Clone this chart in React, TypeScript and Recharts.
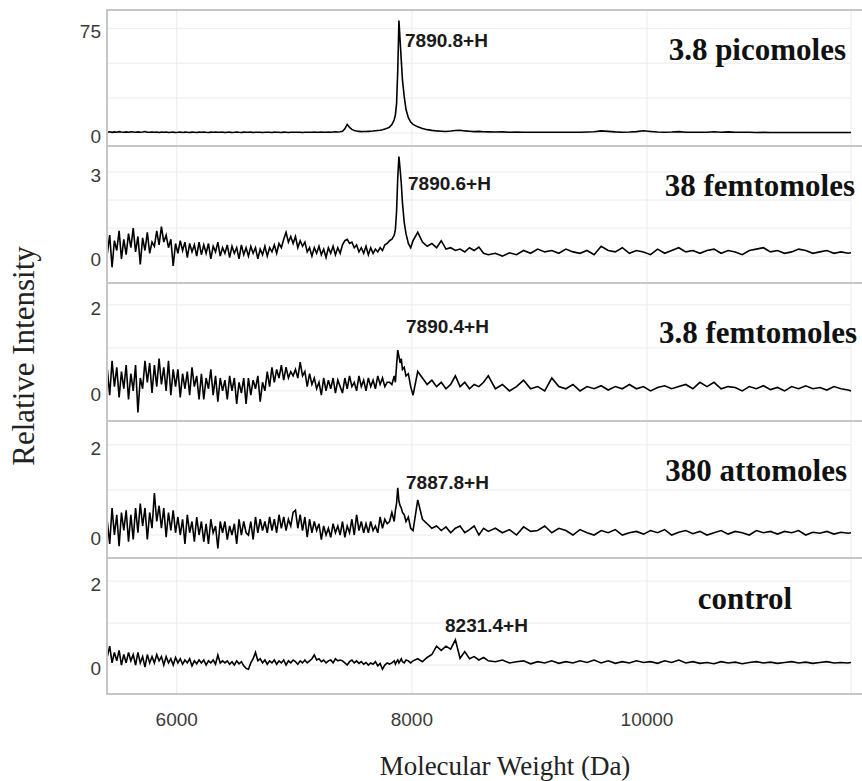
import { LineChart, Line, XAxis, YAxis, CartesianGrid } from "recharts"

// molecular weight (Da) sampling grid
const mw = [
  5410, 5430, 5450, 5470, 5490, 5510, 5530, 5550, 5570, 5590,
  5610, 5630, 5650, 5670, 5690, 5710, 5730, 5750, 5770, 5790,
  5810, 5830, 5850, 5870, 5890, 5910, 5930, 5950, 5970, 5990,
  6010, 6030, 6050, 6070, 6090, 6110, 6130, 6150, 6170, 6190,
  6210, 6230, 6250, 6270, 6290, 6310, 6330, 6350, 6370, 6390,
  6410, 6430, 6450, 6470, 6490, 6510, 6530, 6550, 6570, 6590,
  6610, 6630, 6650, 6670, 6690, 6710, 6730, 6750, 6770, 6790,
  6810, 6830, 6850, 6870, 6890, 6910, 6930, 6950, 6970, 6990,
  7010, 7030, 7050, 7070, 7090, 7110, 7130, 7150, 7170, 7190,
  7210, 7230, 7250, 7270, 7290, 7310, 7330, 7350, 7370, 7390,
  7410, 7430, 7450, 7470, 7490, 7510, 7530, 7550, 7570, 7590,
  7610, 7630, 7650, 7670, 7690, 7710, 7730, 7750, 7770, 7790,
  7810,
  7830, 7850, 7860, 7870, 7880, 7890, 7900, 7910, 7920, 7935, 7950, 7970, 7990,
  8010, 8050, 8090, 8130, 8170, 8210, 8250, 8290, 8330, 8370, 8410, 8450, 8490, 8530, 8570, 8610, 8650,
  8710, 8770, 8830, 8890, 8950, 9010, 9070, 9130, 9190, 9250,
  9310, 9370, 9430, 9490, 9550, 9610, 9670, 9730, 9790, 9850,
  9910, 9970, 10030, 10090, 10150, 10210, 10270, 10330, 10390, 10450,
  10510, 10570, 10630, 10690, 10750, 10810, 10870, 10930, 10990, 11050,
  11110, 11170, 11230, 11290, 11350, 11410, 11470, 11530, 11590, 11650,
  11710, 11735,
]

const pico = [
  0.6, 0.9, 0.5, 0.8, 0.6, 1.0, 0.7, 0.5, 0.8, 0.6,
  0.9, 0.7, 0.5, 0.8, 0.6, 0.7, 1.1, 0.6, 0.5, 0.7,
  0.5, 0.6, 0.4, 0.6, 0.5, 0.7, 0.4, 0.5, 0.6, 0.4,
  0.5, 0.7, 0.4, 0.6, 0.5, 0.4, 0.6, 0.5, 0.4, 0.6,
  0.5, 0.7, 0.5, 0.4, 0.6, 0.5, 0.7, 0.6, 0.5, 0.6,
  0.4, 0.5, 0.6, 0.4, 0.5, 0.7, 0.5, 0.4, 0.6, 0.5,
  0.5, 0.6, 0.4, 0.5, 0.6, 0.5, 0.4, 0.5, 0.6, 0.5,
  0.4, 0.6, 0.5, 0.5, 0.4, 0.6, 0.5, 0.4, 0.5, 0.6,
  0.5, 0.6, 0.5, 0.4, 0.5, 0.6, 0.5, 0.6, 0.7, 0.6,
  0.6, 0.7, 0.6, 0.5, 0.7, 0.6, 0.7, 0.8, 0.7, 0.9,
  1.2, 3.0, 6.2, 4.0, 2.6, 1.8, 1.4, 1.2, 1.0, 1.1,
  1.1, 1.2, 1.3, 1.4, 1.6, 1.8, 2.0, 2.3, 2.8, 3.4,
  4.2,
  6, 9.5, 13, 21, 45, 80.5, 66, 52, 38, 26, 17, 11, 7.8,
  6.2, 4.4, 3.2, 2.4, 1.9, 1.5, 1.3, 1.1, 1.4, 1.8, 2.0, 1.5, 1.3, 1.0, 1.2, 0.9, 0.8,
  0.7, 0.8, 0.6, 0.7, 0.5, 0.6, 0.5, 0.6, 0.5, 0.6,
  0.5, 0.6, 0.5, 0.7, 0.9, 1.5, 1.2, 0.8, 0.6, 0.7,
  1.0, 1.6, 1.1, 0.7, 0.6, 0.7, 1.0, 0.6, 0.5, 0.6,
  0.5, 0.9, 0.6, 0.8, 0.6, 0.5, 0.5, 0.4, 0.5, 0.4,
  0.4, 0.4, 0.4, 0.4, 0.4, 0.4, 0.4, 0.4, 0.4, 0.4,
  0.4, 0.4,
]

const femto38 = [
  0.1, 0.75, -0.4, 0.55, 0.2, 0.9, -0.1, 0.6, 0.05, 0.8,
  0.3, 1.0, 0.15, 0.7, -0.3, 0.65, 0.2, 0.85, 0.1, 0.5,
  0.35, 0.9, 0.4, 1.05, 0.5, 0.75, 0.3, 0.6, -0.35, 0.45,
  0.1, 0.55, 0.2, 0.5, -0.05, 0.45, 0.15, 0.4, 0.0, 0.5,
  0.05, 0.4, 0.1, 0.45, -0.1, 0.35, 0.15, 0.5, 0.0, 0.3,
  0.1, 0.4, -0.05, 0.35, 0.1, 0.3, -0.1, 0.4, 0.05, 0.3,
  0.0, 0.35, 0.1, 0.3, -0.1, 0.25, 0.05, 0.35, 0.0, 0.3,
  0.15, 0.4, 0.1, 0.45, 0.3, 0.6, 0.85, 0.5, 0.7, 0.45,
  0.7, 0.3, 0.55, 0.35, 0.5, 0.15, 0.3, 0.0, 0.3, 0.1,
  0.35, 0.05, 0.25, -0.05, 0.3, 0.1, 0.35, 0.05, 0.3, 0.1,
  0.4, 0.55, 0.6, 0.45, 0.5, 0.3, 0.4, 0.15, 0.3, 0.1,
  0.35, 0.05, 0.3, 0.1, 0.25, 0.15, 0.3, 0.2, 0.4, 0.45,
  0.55,
  0.6, 0.75, 0.95, 1.6, 2.8, 3.55, 3.1, 2.6, 1.9, 1.2, 0.8, 0.45, 0.3,
  0.55, 0.85, 0.5, 0.35, 0.45, 0.3, 0.55, 0.25, 0.3, 0.2, 0.25, 0.15, 0.3, 0.2, 0.32, 0.1, 0.05,
  0.1, 0.0, 0.12, 0.05, 0.2, 0.1, 0.25, 0.15, 0.2, 0.1,
  0.25, 0.15, 0.1, 0.2, 0.05, 0.35, 0.2, 0.15, 0.3, 0.1,
  0.2, 0.15, 0.05, 0.25, 0.1, 0.2, 0.3, 0.15, 0.2, 0.1,
  0.2, 0.25, 0.1, 0.2, 0.15, 0.05, 0.2, 0.25, 0.3, 0.15,
  0.2, 0.1, 0.15, 0.25, 0.2, 0.1, 0.15, 0.2, 0.1, 0.15,
  0.1, 0.12,
]

const femto3 = [
  0.5, -0.1, 0.7, 0.1, 0.55, -0.15, 0.45, 0.05, 0.6, -0.2,
  0.4, 0.0, 0.6, -0.5, 0.3, 0.05, 0.7, 0.2, 0.65, -0.05,
  0.6, 0.1, 0.75, 0.15, 0.55, 0.0, 0.7, -0.1, 0.5, 0.1,
  0.5, -0.15, 0.4, 0.05, 0.45, -0.1, 0.55, 0.1, 0.35, -0.2,
  0.4, -0.2, 0.3, 0.05, 0.5, -0.1, 0.35, -0.25, 0.3, 0.0,
  0.25, -0.2, 0.35, 0.0, 0.3, -0.3, 0.2, -0.05, 0.3, -0.3,
  0.3, -0.1, 0.25, 0.05, 0.35, -0.25, 0.2, 0.0, 0.45, 0.1,
  0.55, 0.2, 0.5, 0.3, 0.6, 0.25, 0.55, 0.3, 0.45, 0.35,
  0.5, 0.3, 0.67, 0.35, 0.45, 0.1, 0.4, 0.15, 0.3, 0.05,
  0.2, -0.1, 0.3, 0.0, 0.25, 0.05, 0.3, -0.05, 0.25, 0.1,
  -0.05, 0.3, 0.05, 0.35, 0.1, 0.2, 0.0, 0.35, 0.1, 0.25,
  0.0, 0.3, 0.1, 0.25, 0.05, 0.35, 0.15, 0.3, 0.1, 0.2,
  0.2,
  0.15, 0.35, 0.2, 0.6, 0.95, 0.8, 0.65, 0.75, 0.5, 0.55, 0.35, 0.4, 0.1,
  -0.1, 0.45, 0.3, 0.15, 0.25, 0.1, 0.2, 0.05, 0.15, 0.35, 0.1, 0.2, 0.05, 0.15, 0.1, 0.2, 0.35,
  0.05, 0.15, 0.0, 0.1, 0.25, 0.05, 0.1, 0.0, 0.3, 0.1,
  0.05, 0.15, 0.0, 0.1, 0.05, 0.12, 0.02, 0.1, 0.05, 0.15,
  0.05, 0.1, 0.0, 0.08, 0.12, 0.05, 0.1, 0.15, 0.05, 0.2,
  0.1, 0.2, 0.05, 0.1, 0.08, 0.0, 0.1, 0.05, 0.12, 0.03,
  0.08, 0.0, 0.1, 0.05, 0.12, 0.05, 0.08, 0.02, 0.1, 0.05,
  0.02, 0.0,
]

const atto380 = [
  0.3, -0.2, 0.6, 0.0, 0.45, -0.25, 0.5, 0.1, 0.55, -0.15,
  0.45, -0.1, 0.6, 0.05, 0.7, 0.2, 0.6, -0.1, 0.5, 0.15,
  0.93, 0.3, 0.65, 0.15, 0.6, -0.05, 0.5, 0.1, 0.55, 0.05,
  0.4, 0.0, 0.35, -0.2, 0.45, 0.05, 0.3, -0.15, 0.4, 0.0,
  0.3, -0.15, 0.25, -0.2, 0.35, 0.05, 0.2, -0.3, 0.3, 0.05,
  0.3, -0.1, 0.2, 0.0, 0.25, -0.2, 0.35, 0.0, 0.3, 0.05,
  0.0, 0.3, -0.1, 0.4, 0.05, 0.35, 0.1, 0.3, 0.05, 0.4,
  0.1, 0.35, 0.05, 0.45, 0.15, 0.4, 0.1, 0.35, 0.2, 0.5,
  0.55, 0.15, 0.45, 0.1, 0.4, -0.05, 0.35, 0.05, 0.3, 0.1,
  0.25, -0.1, 0.2, 0.0, 0.15, -0.05, 0.25, 0.05, 0.2, 0.0,
  0.3, -0.05, 0.2, 0.05, 0.35, 0.0, 0.45, 0.1, 0.3, 0.05,
  0.25, 0.05, 0.3, 0.1, 0.2, 0.05, 0.4, 0.15, 0.35, 0.25,
  0.3,
  0.5, 0.3, 0.55, 0.7, 1.05, 0.75, 0.65, 0.6, 0.5, 0.45, 0.3, 0.4, 0.15,
  0.1, 0.78, 0.35, 0.25, 0.15, 0.2, 0.1, 0.18, 0.05, 0.15, 0.2, 0.05, 0.12, 0.2, 0.0, 0.15, 0.08,
  0.15, 0.05, 0.12, 0.0, 0.18, 0.08, 0.1, 0.2, 0.05, 0.15,
  0.1, 0.0, 0.12, 0.05, 0.0, 0.1, 0.05, 0.12, 0.0, 0.05,
  0.08, 0.02, 0.1, 0.05, 0.12, 0.0, 0.06, 0.1, 0.03, 0.08,
  0.0, 0.05, 0.1, 0.02, 0.08, 0.05, 0.0, 0.1, 0.05, 0.08,
  0.02, 0.08, 0.05, 0.1, 0.0, 0.06, 0.04, 0.08, 0.02, 0.06,
  0.04, 0.05,
]

const control = [
  0.2, 0.45, 0.05, 0.3, 0.1, 0.35, 0.0, 0.25, 0.05, 0.3,
  0.1, 0.25, 0.0, 0.3, 0.05, 0.2, -0.05, 0.25, 0.05, 0.2,
  0.05, 0.25, 0.1, 0.2, 0.0, 0.2, 0.05, 0.15, 0.0, 0.18,
  0.05, 0.15, 0.02, 0.12, 0.05, 0.15, -0.02, 0.1, 0.03, 0.12,
  0.05, 0.12, 0.0, 0.1, 0.05, 0.12, 0.02, 0.24, 0.05, 0.1,
  0.05, 0.1, 0.02, 0.08, 0.0, 0.1, 0.03, 0.08, -0.02, -0.08,
  -0.1, 0.05, 0.15, 0.3, 0.1, 0.15, 0.05, 0.12, 0.02, 0.1,
  0.05, 0.12, 0.02, 0.1, 0.05, 0.12, 0.0, 0.1, 0.05, 0.12,
  0.08, 0.02, 0.1, 0.05, 0.12, 0.05, 0.1, 0.15, 0.24, 0.12,
  0.15, 0.08, 0.12, 0.05, 0.1, 0.12, 0.05, 0.15, 0.1, 0.12,
  0.1, 0.05, 0.0, 0.08, 0.12, 0.05, 0.1, 0.04, 0.08, 0.02,
  0.06, 0.0, 0.05, 0.02, 0.08, -0.02, 0.04, -0.1, 0.0, 0.05,
  0.02,
  0.05, 0.1, 0.02, 0.08, 0.12, 0.05, 0.1, 0.15, 0.08, 0.05, 0.12, 0.1, 0.05,
  0.1, 0.15, 0.08, 0.18, 0.25, 0.45, 0.35, 0.45, 0.38, 0.6, 0.16, 0.32, 0.15, 0.2, 0.12, 0.18, 0.1,
  0.08, 0.12, 0.05, 0.08, 0.1, 0.03, 0.08, 0.05, 0.1, 0.04,
  0.08, 0.05, 0.1, 0.06, 0.12, 0.05, 0.1, 0.04, 0.08, 0.05,
  0.1, 0.06, 0.08, 0.04, 0.1, 0.06, 0.12, 0.05, 0.08, 0.04,
  0.06, 0.03, 0.08, 0.05, 0.07, 0.03, 0.06, 0.08, 0.05, 0.07,
  0.04, 0.06, 0.08, 0.05, 0.07, 0.04, 0.06, 0.08, 0.05, 0.06,
  0.05, 0.06,
]

const amounts = ["3.8 picomoles", "38 femtomoles", "3.8 femtomoles", "380 attomoles", "control"]
const peakLabels = ["7890.8+H", "7890.6+H", "7890.4+H", "7887.8+H", "8231.4+H"]
const xTicks = [6000, 8000, 10000]

const SANS = '"Liberation Sans", Arial, sans-serif'
const SERIF = '"Liberation Serif", "Times New Roman", serif'

const panels = [
  { values: pico, top: 10, h: 136, domain: [-9.3, 88.1], ticks: [0, 25, 50, 75], shown: [0, 75], tag: [846, 60], peak: [405, 47] },
  { values: femto38, top: 146, h: 137, domain: [-0.96, 3.93], ticks: [0, 1, 2, 3], shown: [0, 3], tag: [855, 196], peak: [408, 190] },
  { values: femto3, top: 283, h: 138, domain: [-0.7, 2.51], ticks: [0, 1, 2], shown: [0, 2], tag: [857, 343], peak: [406, 333] },
  { values: atto380, top: 421, h: 137, domain: [-0.51, 2.53], ticks: [0, 1, 2], shown: [0, 2], tag: [847, 481], peak: [406, 489] },
  { values: control, top: 558, h: 136, domain: [-0.69, 2.55], ticks: [0, 1, 2], shown: [0, 2], tag: [792, 609], peak: [445, 632] },
]

function Panel({ p, last }: { p: (typeof panels)[number]; last: boolean }) {
  const rows = mw.map((m, i) => ({ mw: m, y: p.values[i] }))
  return (
    <div style={{ position: "absolute", left: 0, top: p.top }}>
      <LineChart
        width={862}
        height={p.h + (last ? 50 : 0)}
        data={rows}
        margin={{ top: 0, right: 11, bottom: 0, left: 57 }}
      >
        <CartesianGrid stroke="#ebebeb" />
        <XAxis
          dataKey="mw"
          type="number"
          domain={[5407, 11735]}
          ticks={xTicks}
          allowDataOverflow
          hide={!last}
          height={50}
          tickLine={false}
          axisLine={false}
          tickSize={0}
          tickMargin={19}
          tick={{ fontSize: 19, fill: "#3a3a3a", fontFamily: SANS }}
        />
        <YAxis
          type="number"
          domain={p.domain}
          ticks={p.ticks}
          allowDataOverflow
          interval={0}
          width={50}
          tickLine={false}
          axisLine={false}
          tickSize={0}
          tickMargin={6}
          tickFormatter={(v: number) => (p.shown.includes(v) ? String(v) : "")}
          tick={{ fontSize: 19, fill: "#3a3a3a", fontFamily: SANS, dy: 3 }}
        />
        <Line
          dataKey="y"
          type="linear"
          dot={false}
          stroke="#000"
          strokeWidth={1.6}
          isAnimationActive={false}
        />
      </LineChart>
      <div
        style={{
          position: "absolute",
          left: 106,
          top: -1,
          width: 862 - 106,
          height: p.h + 2,
          boxSizing: "border-box",
          border: "2px solid #c6c6c6",
          borderRight: "none",
          pointerEvents: "none",
        }}
      />
    </div>
  )
}

export default function App() {
  return (
    <div style={{ position: "absolute", left: 0, top: 0, width: 862, height: 781, background: "#fff", overflow: "hidden" }}>
      {panels.map((p, i) => (
        <Panel key={amounts[i]} p={p} last={i === panels.length - 1} />
      ))}
      <svg width={862} height={781} style={{ position: "absolute", left: 0, top: 0, pointerEvents: "none" }}>
        {panels.map((p, i) => (
          <g key={i}>
            <text x={p.tag[0]} y={p.tag[1]} textAnchor="end" fontFamily={SERIF} fontWeight="bold" fontSize={31} fill="#111">
              {amounts[i]}
            </text>
            <text x={p.peak[0]} y={p.peak[1]} fontFamily={SANS} fontWeight="bold" fontSize={19} fill="#1a1a1a">
              {peakLabels[i]}
            </text>
          </g>
        ))}
        <text x={34} y={356} transform="rotate(-90 34 356)" textAnchor="middle" fontFamily={SERIF} fontSize={31} fill="#222">
          Relative Intensity
        </text>
        <text x={505} y={775} textAnchor="middle" fontFamily={SERIF} fontSize={27} fill="#222">
          Molecular Weight (Da)
        </text>
      </svg>
    </div>
  )
}
